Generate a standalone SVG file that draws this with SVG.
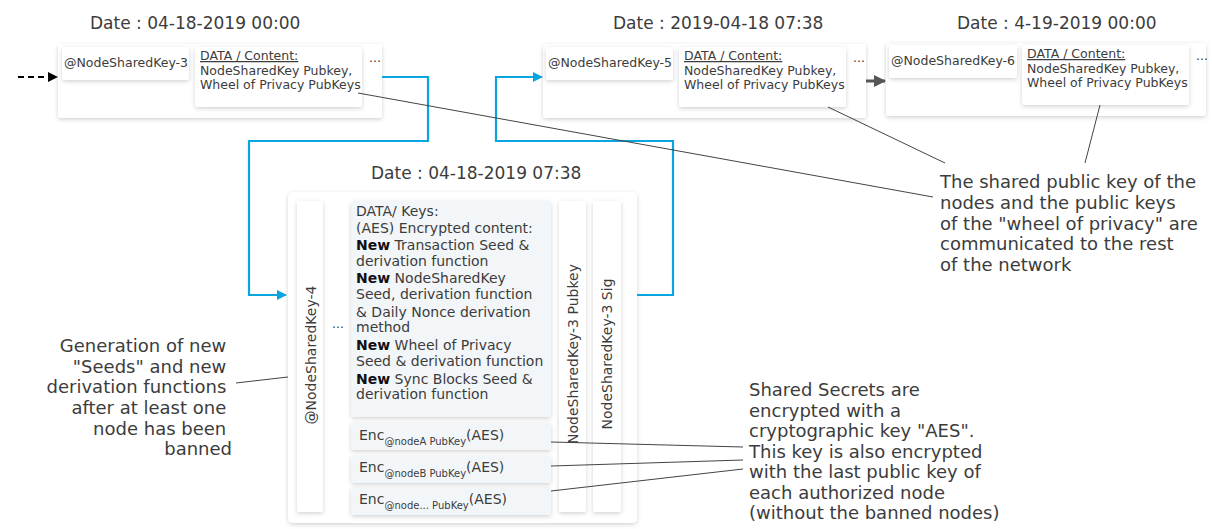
<svg xmlns="http://www.w3.org/2000/svg" width="1212" height="529" viewBox="0 0 1212 529">
<style>
text{font-family:"DejaVu Sans","Liberation Sans",sans-serif;fill:#3c3c3c}
.date{font-size:17px}
.sm{font-size:12.5px}
.mid{font-size:14px}
.ann{font-size:18px}
.vert{font-size:14px}
.card{fill:#fff;filter:url(#sh)}
.tint{fill:#f3f6f9;filter:url(#sh)}
.blue{fill:none;stroke:#0aa5e0;stroke-width:2.2}
.thin{fill:none;stroke:#444;stroke-width:1}
.b{font-weight:bold;fill:#111}
</style>
<defs>
<filter id="sh" x="-20%" y="-20%" width="140%" height="140%">
<feDropShadow dx="0" dy="1.5" stdDeviation="2" flood-color="#000" flood-opacity="0.18"/>
</filter>
<marker id="ab" markerWidth="10" markerHeight="10" refX="9" refY="5" orient="auto" markerUnits="userSpaceOnUse">
<path d="M0,0 L10,5 L0,10 z" fill="#0aa5e0"/>
</marker>
<marker id="ak" markerWidth="10" markerHeight="10" refX="9" refY="5" orient="auto" markerUnits="userSpaceOnUse">
<path d="M0,0 L10,5 L0,10 z" fill="#000"/>
</marker>
<marker id="ag" markerWidth="12" markerHeight="12" refX="11" refY="6" orient="auto" markerUnits="userSpaceOnUse">
<path d="M0,0 L12,6 L0,12 z" fill="#555"/>
</marker>
</defs>

<g id="block1">
<text class="date" x="90" y="29">Date : 04-18-2019 00:00</text>
<rect class="card" x="58" y="44" width="324" height="74" rx="3"/>
<rect class="card" x="62" y="47" width="127" height="33" rx="3"/>
<text class="sm" x="64" y="67">@NodeSharedKey-3</text>
<rect class="card" x="195" y="47" width="167" height="60" rx="3"/>
<text class="sm" x="200" y="60" text-decoration="underline">DATA / Content:</text>
<text class="sm" x="200" y="75">NodeSharedKey Pubkey,</text>
<text class="sm" x="200" y="89">Wheel of Privacy PubKeys</text>
<text class="sm" x="369" y="62">...</text>
</g>

<g id="block2">
<text class="date" x="613" y="29">Date : 2019-04-18 07:38</text>
<rect class="card" x="543" y="44" width="323" height="74" rx="3"/>
<rect class="card" x="546" y="47" width="127" height="33" rx="3"/>
<text class="sm" x="548" y="67">@NodeSharedKey-5</text>
<rect class="card" x="679" y="47" width="167" height="60" rx="3"/>
<text class="sm" x="684" y="60" text-decoration="underline">DATA / Content:</text>
<text class="sm" x="684" y="75">NodeSharedKey Pubkey,</text>
<text class="sm" x="684" y="89">Wheel of Privacy PubKeys</text>
<text class="sm" x="853" y="62">...</text>
</g>

<g id="block3">
<text class="date" x="957" y="29">Date : 4-19-2019 00:00</text>
<rect class="card" x="886" y="43" width="320" height="73" rx="3"/>
<rect class="card" x="889" y="45" width="128" height="33" rx="3"/>
<text class="sm" x="891" y="65">@NodeSharedKey-6</text>
<rect class="card" x="1022" y="45" width="167" height="60" rx="3"/>
<text class="sm" x="1027" y="58" text-decoration="underline">DATA / Content:</text>
<text class="sm" x="1027" y="73">NodeSharedKey Pubkey,</text>
<text class="sm" x="1027" y="87">Wheel of Privacy PubKeys</text>
<text class="sm" x="1196" y="60">...</text>
</g>

<g id="block4">
<text class="date" x="371" y="179">Date : 04-18-2019 07:38</text>
<rect class="card" x="288" y="192" width="349" height="331" rx="5"/>
<rect class="card" x="297" y="201" width="26" height="311" rx="2"/>
<text class="vert" transform="translate(316,355) rotate(-90)" text-anchor="middle">@NodeSharedKey-4</text>
<text class="sm" x="332" y="328">...</text>
<rect class="tint" x="351" y="201" width="200" height="216" rx="3"/>
<text class="mid">
<tspan x="356" y="216">DATA/ Keys:</tspan>
<tspan x="356" y="233">(AES) Encrypted content:</tspan>
<tspan x="356" y="250" class="b">New</tspan><tspan> Transaction Seed &amp;</tspan>
<tspan x="356" y="266">derivation function</tspan>
<tspan x="356" y="283" class="b">New</tspan><tspan> NodeSharedKey</tspan>
<tspan x="356" y="299">Seed, derivation function</tspan>
<tspan x="356" y="317">&amp; Daily Nonce derivation</tspan>
<tspan x="356" y="332">method</tspan>
<tspan x="356" y="350" class="b">New</tspan><tspan> Wheel of Privacy</tspan>
<tspan x="356" y="366">Seed &amp; derivation function</tspan>
<tspan x="356" y="384" class="b">New</tspan><tspan> Sync Blocks Seed &amp;</tspan>
<tspan x="356" y="399">derivation function</tspan>
</text>
<rect class="tint" x="351" y="423" width="200" height="27" rx="3"/>
<text class="mid" x="359" y="440">Enc<tspan font-size="10" dy="5">@nodeA PubKey</tspan><tspan dy="-5">(AES)</tspan></text>
<rect class="tint" x="351" y="456" width="200" height="27" rx="3"/>
<text class="mid" x="359" y="472">Enc<tspan font-size="10" dy="5">@nodeB PubKey</tspan><tspan dy="-5">(AES)</tspan></text>
<rect class="tint" x="351" y="488" width="200" height="27" rx="3"/>
<text class="mid" x="359" y="504">Enc<tspan font-size="10" dy="5">@node... PubKey</tspan><tspan dy="-5">(AES)</tspan></text>
<rect class="card" x="559" y="201" width="27" height="311" rx="2"/>
<text class="vert" transform="translate(578,354) rotate(-90)" text-anchor="middle">NodeSharedKey-3 Pubkey</text>
<rect class="card" x="593" y="201" width="28" height="311" rx="2"/>
<text class="vert" transform="translate(612,354) rotate(-90)" text-anchor="middle">NodeSharedKey-3 Sig</text>
</g>

<g id="note-left">
<text class="ann" text-anchor="end">
<tspan x="232" y="352">Generation of new</tspan>
<tspan x="232" y="372.5">"Seeds" and new</tspan>
<tspan x="232" y="393">derivation functions</tspan>
<tspan x="232" y="414">after at least one</tspan>
<tspan x="232" y="434.5">node has been</tspan>
<tspan x="232" y="455">banned</tspan>
</text>
</g>

<g id="note-right">
<text class="ann">
<tspan x="940" y="188">The shared public key of the</tspan>
<tspan x="940" y="209">nodes and the public keys</tspan>
<tspan x="940" y="229.5">of the "wheel of privacy" are</tspan>
<tspan x="940" y="250">communicated to the rest</tspan>
<tspan x="940" y="271">of the network</tspan>
</text>
</g>

<g id="note-bottom">
<text class="ann">
<tspan x="749" y="396">Shared Secrets are</tspan>
<tspan x="749" y="416.5">encrypted with a</tspan>
<tspan x="749" y="437">cryptographic key "AES".</tspan>
<tspan x="749" y="457.5">This key is also encrypted</tspan>
<tspan x="749" y="478">with the last public key of</tspan>
<tspan x="749" y="498.5">each authorized node</tspan>
<tspan x="749" y="519">(without the banned nodes)</tspan>
</text>
</g>

<g id="connectors">
<line x1="18" y1="77" x2="57" y2="77" stroke="#000" stroke-width="2" stroke-dasharray="6,4" marker-end="url(#ak)"/>
<line x1="866" y1="81" x2="885" y2="81" stroke="#555" stroke-width="3" marker-end="url(#ag)"/>
<path class="blue" d="M382,77 H428 V141 H249 V295 H286" marker-end="url(#ab)"/>
<path class="blue" d="M637,295 H673 V141 H496 V77 H542" marker-end="url(#ab)"/>
<line class="thin" x1="358" y1="93" x2="933" y2="197"/>
<line class="thin" x1="828" y1="107" x2="945" y2="163"/>
<line class="thin" x1="1100" y1="105" x2="1085" y2="163"/>
<line class="thin" x1="236" y1="383" x2="288" y2="377"/>
<line class="thin" x1="551" y1="442" x2="743" y2="447"/>
<line class="thin" x1="551" y1="466" x2="743" y2="460"/>
<line class="thin" x1="551" y1="491" x2="743" y2="469"/>
</g>
</svg>
